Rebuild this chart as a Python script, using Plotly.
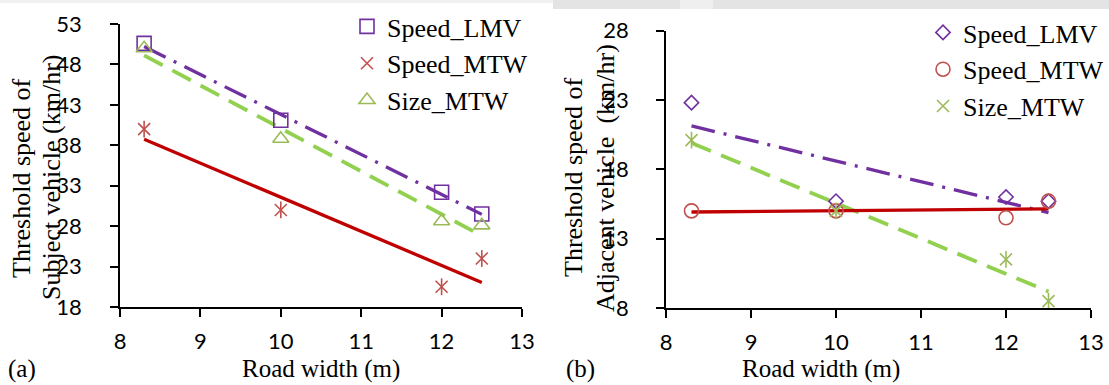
import numpy as np
import plotly.graph_objects as go

# Road widths (m)
road_width = [8.3, 10, 12, 12.5]

# (a) Threshold speed of subject vehicle (km/hr)
a_speed_lmv = [50.6, 41.1, 32.2, 29.5]
a_speed_mtw = [40.0, 30.0, 20.5, 24.0]
a_size_mtw = [50.0, 38.8, 28.6, 28.1]

# (b) Threshold speed of adjacent vehicle (km/hr)
b_speed_lmv = [22.8, 15.7, 16.0, 15.7]
b_speed_mtw = [15.0, 15.0, 14.5, 15.7]
b_size_mtw = [20.1, 15.0, 11.5, 8.5]

x_ticks = [8, 9, 10, 11, 12, 13]
a_y_ticks = [18, 23, 28, 33, 38, 43, 48, 53]
b_y_ticks = [8, 13, 18, 23, 28]

PURPLE = "#7030A0"
RED_M = "#C0504D"
RED_L = "#C00000"
GREEN_M = "#9BBB59"
GREEN_L = "#92D050"

SERIF = "Liberation Serif"
SANS = "Lato"

W, H = 1109, 385


def trend(xs, ys):
    k, b = np.polyfit(xs, ys, 1)
    xe = np.array([min(xs), max(xs)])
    return xe, k * xe + b


fig = go.Figure()


def add_points(xs, ys, name, symbol, color, size, xa, ya, legend, extra_symbol=None):
    fig.add_trace(go.Scatter(
        x=xs, y=ys, mode="markers", name=name, xaxis=xa, yaxis=ya, legend=legend,
        marker=dict(symbol=symbol, size=size, color=color,
                    line=dict(color=color, width=1.6)),
    ))
    if extra_symbol:
        fig.add_trace(go.Scatter(
            x=xs, y=ys, mode="markers", showlegend=False, xaxis=xa, yaxis=ya,
            marker=dict(symbol=extra_symbol, size=size, color=color,
                        line=dict(color=color, width=1.6)),
        ))


def add_trend(xs, ys, color, dash, width, xa, ya):
    tx, ty = trend(xs, ys)
    fig.add_trace(go.Scatter(
        x=tx, y=ty, mode="lines", showlegend=False, xaxis=xa, yaxis=ya,
        line=dict(color=color, width=width, dash=dash),
    ))


DASHDOT = "24px,9px,3px,9px"
DASH = "21px,11px"

# Panel (a)
add_trend(road_width, a_speed_lmv, PURPLE, DASHDOT, 3.3, "x", "y")
add_trend(road_width, a_size_mtw, GREEN_L, DASH, 3.8, "x", "y")
add_trend(road_width, a_speed_mtw, RED_L, "solid", 3.3, "x", "y")
add_points(road_width, a_speed_lmv, "Speed_LMV", "square-open", PURPLE, 14, "x", "y", "legend")
add_points(road_width, a_speed_mtw, "Speed_MTW", "x-thin-open", RED_M, 12, "x", "y", "legend",
           extra_symbol="line-ns-open")
add_points(road_width, a_size_mtw, "Size_MTW", "triangle-up-open", GREEN_M, 14, "x", "y", "legend")

# Panel (b)
add_trend(road_width, b_speed_lmv, PURPLE, DASHDOT, 3.3, "x2", "y2")
add_trend(road_width, b_size_mtw, GREEN_L, DASH, 3.8, "x2", "y2")
add_trend(road_width, b_speed_mtw, RED_L, "solid", 3.3, "x2", "y2")
add_points(road_width, b_speed_lmv, "Speed_LMV", "diamond-open", PURPLE, 11, "x2", "y2", "legend2")
add_points(road_width, b_speed_mtw, "Speed_MTW", "circle-open", RED_M, 14, "x2", "y2", "legend2")
add_points(road_width, b_size_mtw, "Size_MTW", "x-thin-open", GREEN_M, 12, "x2", "y2", "legend2",
           extra_symbol="line-ns-open")

axis_common = dict(
    showgrid=False, zeroline=False, showline=True, linecolor="black", linewidth=1.5,
    ticks="outside", ticklen=8, tickwidth=1.5, tickcolor="black",
    tickfont=dict(family=SANS, size=22, color="black"), automargin=False,
)

# Light page strip along the top edge
top_strip = [
    dict(x0=0, x1=553, y0=382, y1=385, fillcolor="#f0f0f0"),
    dict(x0=553, x1=680, y0=376, y1=385, fillcolor="#e4e4e4"),
    dict(x0=680, x1=713, y0=376, y1=385, fillcolor="#efefef"),
    dict(x0=713, x1=1109, y0=376, y1=385, fillcolor="#e4e4e4"),
]
shapes = [dict(type="rect", xref="paper", yref="paper", layer="below",
               x0=s["x0"] / W, x1=s["x1"] / W, y0=s["y0"] / H, y1=s["y1"] / H,
               fillcolor=s["fillcolor"], line=dict(width=0)) for s in top_strip]

fig.update_layout(
    width=W, height=H,
    margin=dict(l=0, r=0, t=0, b=0, pad=0, autoexpand=False),
    paper_bgcolor="white", plot_bgcolor="rgba(0,0,0,0)",
    shapes=shapes,
    xaxis=dict(domain=[120 / W, 522 / W], range=[8, 13], tickvals=x_ticks,
               anchor="y", ticklabelstandoff=6, **axis_common),
    yaxis=dict(domain=[1 - 307 / H, 1 - 24 / H], range=[18, 53], tickvals=a_y_ticks,
               anchor="x", ticklabelstandoff=24, **axis_common),
    xaxis2=dict(domain=[666 / W, 1091 / W], range=[8, 13], tickvals=x_ticks,
                anchor="y2", ticklabelstandoff=6, **axis_common),
    yaxis2=dict(domain=[1 - 308 / H, 1 - 30.5 / H], range=[8, 28], tickvals=b_y_ticks,
                anchor="x2", ticklabelstandoff=23, **axis_common),
    legend=dict(x=347 / W, y=1 - 3 / H, xanchor="left", yanchor="top",
                bgcolor="rgba(0,0,0,0)", font=dict(family=SERIF, size=26, color="black"),
                tracegroupgap=0),
    legend2=dict(x=923 / W, y=1 - 9 / H, xanchor="left", yanchor="top",
                 bgcolor="rgba(0,0,0,0)", font=dict(family=SERIF, size=26, color="black"),
                 tracegroupgap=0),
    showlegend=True,
)


def note(text, px, py, angle=0, size=26):
    fig.add_annotation(text=text, x=px / W, y=1 - py / H, xref="paper", yref="paper",
                       showarrow=False, textangle=angle,
                       font=dict(family=SERIF, size=size, color="black"),
                       xanchor="center", yanchor="middle")


# Axis titles and panel labels
note("Threshold speed of", 22, 178, -90)
note("Subject vehicle (km/hr)", 52, 178, -90)
note("Road width (m)", 321, 369, size=25)
note("(a)", 22, 369, size=25)

note("Threshold speed of", 573, 177, -90)
note("Adjacent vehicle  (km/hr)", 606, 178, -90)
note("Road width (m)", 821, 369, size=25)
note("(b)", 580, 369, size=25)

fig.write_html("out.html")
